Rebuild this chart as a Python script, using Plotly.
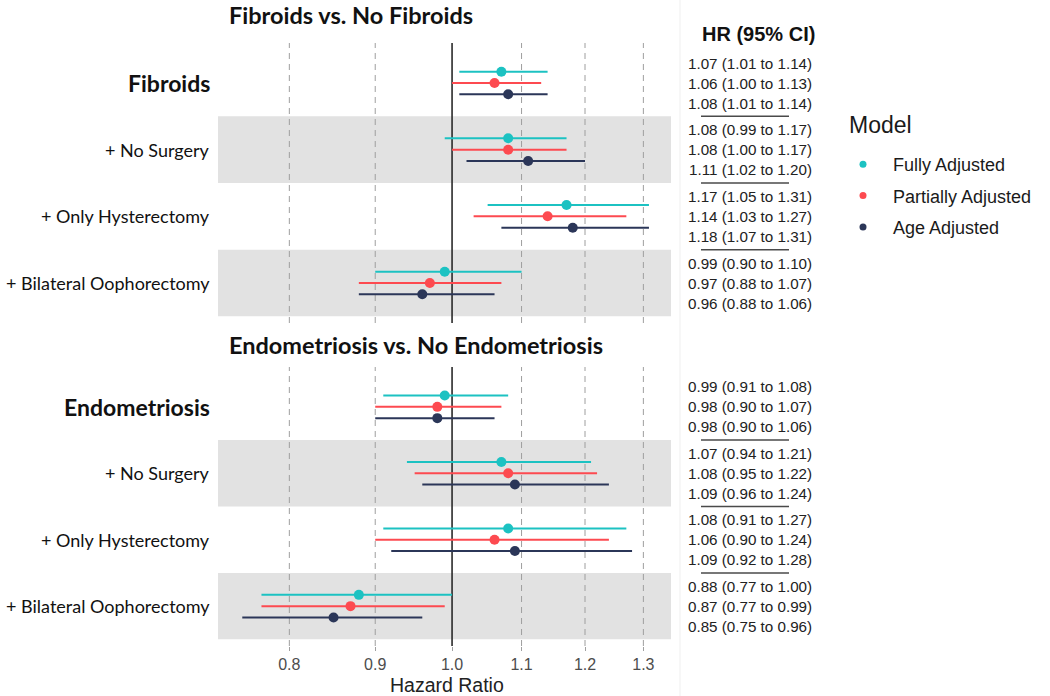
import plotly.graph_objects as go

# ---------------- data ----------------
fib_labels = ["Fibroids", "+ No Surgery", "+ Only Hysterectomy", "+ Bilateral Oophorectomy"]
endo_labels = ["Endometriosis", "+ No Surgery", "+ Only Hysterectomy", "+ Bilateral Oophorectomy"]
models = ["Fully Adjusted", "Partially Adjusted", "Age Adjusted"]
colors = ["#1cc2c2", "#fd4a50", "#2b3658"]

fib_full_hr = [1.07, 1.08, 1.17, 0.99]
fib_full_lo = [1.01, 0.99, 1.05, 0.90]
fib_full_hi = [1.14, 1.17, 1.31, 1.10]
fib_part_hr = [1.06, 1.08, 1.14, 0.97]
fib_part_lo = [1.00, 1.00, 1.03, 0.88]
fib_part_hi = [1.13, 1.17, 1.27, 1.07]
fib_age_hr = [1.08, 1.11, 1.18, 0.96]
fib_age_lo = [1.01, 1.02, 1.07, 0.88]
fib_age_hi = [1.14, 1.20, 1.31, 1.06]

endo_full_hr = [0.99, 1.07, 1.08, 0.88]
endo_full_lo = [0.91, 0.94, 0.91, 0.77]
endo_full_hi = [1.08, 1.21, 1.27, 1.00]
endo_part_hr = [0.98, 1.08, 1.06, 0.87]
endo_part_lo = [0.90, 0.95, 0.90, 0.77]
endo_part_hi = [1.07, 1.22, 1.24, 0.99]
endo_age_hr = [0.98, 1.09, 1.09, 0.85]
endo_age_lo = [0.90, 0.96, 0.92, 0.75]
endo_age_hi = [1.06, 1.24, 1.28, 0.96]

tick_vals = [0.8, 0.9, 1.0, 1.1, 1.2, 1.3]
tick_text = ["0.8", "0.9", "1.0", "1.1", "1.2", "1.3"]
dashed_vals = [0.8, 0.9, 1.1, 1.2, 1.3]

panels = [
    ("Fibroids vs. No Fibroids", fib_labels,
     [(fib_full_hr, fib_full_lo, fib_full_hi),
      (fib_part_hr, fib_part_lo, fib_part_hi),
      (fib_age_hr, fib_age_lo, fib_age_hi)]),
    ("Endometriosis vs. No Endometriosis", endo_labels,
     [(endo_full_hr, endo_full_lo, endo_full_hi),
      (endo_part_hr, endo_part_lo, endo_part_hi),
      (endo_age_hr, endo_age_lo, endo_age_hi)]),
]

# ---------------- layout constants ----------------
W, H = 1050, 696
LAB_FONT = "Lato, 'Open Sans', sans-serif"
ARIAL = "'Liberation Sans', Arial, sans-serif"
point_offsets = [-0.17, 0.0, 0.17]
text_offsets = [-0.3, 0.0, 0.3]
rows = [1, 2, 3, 4]


def px_x(p):
    return p / W


def px_y(p):
    return 1 - p / H


fig = go.Figure()

axis_suffix = ["", "2"]
for pi, (title, labels, series) in enumerate(panels):
    xa = "x" + axis_suffix[pi]
    ya = "y" + axis_suffix[pi]
    for mi, (hr, lo, hi) in enumerate(series):
        fig.add_trace(go.Scatter(
            x=hr,
            y=[r + point_offsets[mi] for r in rows],
            xaxis=xa, yaxis=ya,
            mode="markers",
            marker=dict(color=colors[mi], size=10),
            error_x=dict(type="data", symmetric=False,
                         array=[h - v for h, v in zip(hi, hr)],
                         arrayminus=[v - l for v, l in zip(hr, lo)],
                         color=colors[mi], thickness=2, width=0),
            showlegend=False, name=models[mi],
        ))

# legend entries
for mi, m in enumerate(models):
    fig.add_trace(go.Scatter(
        x=[None], y=[None], mode="markers",
        marker=dict(color=colors[mi], size=7),
        name=m, legendgroup=m, showlegend=True,
    ))

x_domain = [px_x(218), px_x(671)]
x_range = [-0.1394, 0.1304]
x_common = dict(
    type="log", range=x_range, domain=x_domain,
    tickvals=tick_vals, ticktext=tick_text,
    showgrid=False, zeroline=False, showline=False, fixedrange=True,
)

fig.update_layout(
    width=W, height=H, autosize=False,
    margin=dict(l=0, r=0, t=0, b=0),
    paper_bgcolor="white", plot_bgcolor="white",
    xaxis=dict(**x_common, anchor="y", showticklabels=False, ticks=""),
    yaxis=dict(domain=[px_y(323), px_y(43)], range=[4.6, 0.4],
               showticklabels=False, showgrid=False, zeroline=False, anchor="x"),
    xaxis2=dict(**x_common, anchor="y2", showticklabels=True,
                ticks="outside", ticklen=4, tickcolor="#a0a0a0", tickwidth=1,
                tickfont=dict(family=ARIAL, size=16, color="#4d4d4d")),
    yaxis2=dict(domain=[px_y(646), px_y(367)], range=[4.6, 0.4],
                showticklabels=False, showgrid=False, zeroline=False, anchor="x2"),
    legend=dict(
        font=dict(family=ARIAL, size=18, color="#1a1a1a"),
        x=px_x(833), xanchor="left", y=px_y(146), yanchor="top",
        tracegroupgap=5, itemwidth=50, itemsizing="trace", bgcolor="rgba(0,0,0,0)",
    ),
)

shapes = []
annotations = []

# faint separator line
shapes.append(dict(type="line", xref="paper", yref="paper",
                   x0=px_x(680), x1=px_x(680), y0=0, y1=1,
                   line=dict(color="#efefef", width=1), layer="below"))

title_y = [15, 345]
for pi, (title, labels, series) in enumerate(panels):
    xa = "x" + axis_suffix[pi]
    ya = "y" + axis_suffix[pi]
    # bands
    for r in (2, 4):
        shapes.append(dict(type="rect", xref=xa + " domain", yref=ya,
                           x0=0, x1=1, y0=r - 0.5, y1=r + 0.5,
                           fillcolor="#e2e2e2", line=dict(width=0), layer="below"))
    # dashed reference lines
    for v in dashed_vals:
        shapes.append(dict(type="line", xref=xa, yref=ya + " domain",
                           x0=v, x1=v, y0=0, y1=1,
                           line=dict(color="#9e9e9e", width=1, dash="6px,5px"),
                           layer="below"))
    # reference line at 1.0
    shapes.append(dict(type="line", xref=xa, yref=ya + " domain",
                       x0=1.0, x1=1.0, y0=0, y1=1,
                       line=dict(color="#2a2a2a", width=1.6), layer="below"))
    # separators in the text column
    for r in (1.5, 2.5, 3.5):
        shapes.append(dict(type="line", xref="paper", yref=ya,
                           x0=px_x(701), x1=px_x(789), y0=r, y1=r,
                           line=dict(color="#4a4a4a", width=1.5)))
    # panel title
    annotations.append(dict(text="<b>" + title + "</b>", xref="paper", yref="paper",
                            x=px_x(227), y=px_y(title_y[pi]), xanchor="left", yanchor="middle",
                            showarrow=False, font=dict(family=LAB_FONT, size=23.5, color="#111")))
    # row labels
    for ri, lab in enumerate(labels):
        if ri == 0:
            txt = "<b>" + lab + "</b>"
            f = dict(family=LAB_FONT, size=23, color="#111")
        else:
            txt = lab
            f = dict(family=LAB_FONT, size=18, color="#111")
        annotations.append(dict(text=txt, xref="paper", yref=ya, x=px_x(212), y=rows[ri],
                                xanchor="right", yanchor="middle", showarrow=False, font=f))
    # HR text
    for ri in range(4):
        for mi, (hr, lo, hi) in enumerate(series):
            annotations.append(dict(
                text=f"{hr[ri]:.2f} ({lo[ri]:.2f} to {hi[ri]:.2f})",
                xref="paper", yref=ya, x=px_x(750), y=rows[ri] + text_offsets[mi],
                xanchor="center", yanchor="middle", showarrow=False,
                font=dict(family=ARIAL, size=15.2, color="#222")))

annotations.append(dict(text="<b>HR (95% CI)</b>", xref="paper", yref="paper",
                        x=px_x(758), y=px_y(34), xanchor="center", yanchor="middle",
                        showarrow=False, font=dict(family=ARIAL, size=20, color="#111")))
annotations.append(dict(text="Model", xref="paper", yref="paper",
                        x=px_x(847), y=px_y(125), xanchor="left", yanchor="middle",
                        showarrow=False, font=dict(family=ARIAL, size=23, color="#1a1a1a")))
annotations.append(dict(text="Hazard Ratio", xref="paper", yref="paper",
                        x=px_x(447), y=px_y(685), xanchor="center", yanchor="middle",
                        showarrow=False, font=dict(family=ARIAL, size=19.5, color="#222")))

fig.update_layout(shapes=shapes, annotations=annotations)
fig.write_html("out.html", config={"displayModeBar": False},
               post_script="document.body.style.margin='0px';")
